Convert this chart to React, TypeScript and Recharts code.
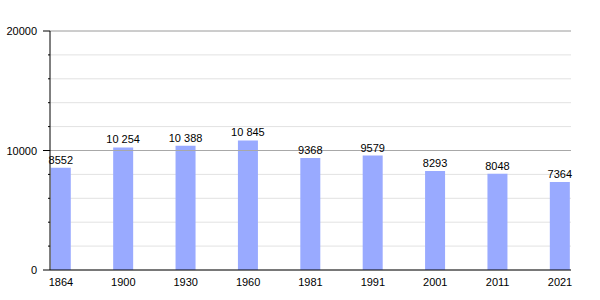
import React from 'react'
import {
  Bar,
  BarChart,
  CartesianGrid,
  LabelList,
  ReferenceLine,
  XAxis,
  YAxis,
} from 'recharts'

const years = ['1864', '1900', '1930', '1960', '1981', '1991', '2001', '2011', '2021']
const population = [8552, 10254, 10388, 10845, 9368, 9579, 8293, 8048, 7364]
const yTicks = [0, 2000, 4000, 6000, 8000, 10000, 12000, 14000, 16000, 18000, 20000]
const yLabels = [0, 10000, 20000]

const data = years.map((year, i) => ({ idx: i, year, pop: population[i] }))

// French-style: (non-breaking) space separator only for numbers of 5+ digits
const formatPop = (v: number): string => {
  const s = String(v)
  if (s.length < 5) return s
  return s.slice(0, s.length - 3) + '\u00a0' + s.slice(s.length - 3)
}

const YTick = ({ x, y, payload }: any) => {
  const major = yLabels.includes(payload.value)
  return (
    <g>
      <line
        x1={x + 8 - (major ? 7 : 2)}
        x2={x + 8}
        y1={y}
        y2={y}
        stroke="#000"
        strokeWidth={1}
      />
      {major && (
        <text
          x={x - 5}
          y={y}
          dy={4}
          textAnchor="end"
          fontSize={11}
          fill="#000"
        >
          {payload.value}
        </text>
      )}
    </g>
  )
}

export default function App() {
  return (
    <div
      style={{
        position: 'absolute',
        left: 0,
        top: 0,
        width: 600,
        height: 300,
        background: '#fff',
        fontFamily: 'Liberation Sans, Arial, sans-serif',
      }}
    >
      <BarChart
        width={600}
        height={300}
        data={data}
        margin={{ top: 31, right: 29, bottom: 0, left: 0 }}
      >
        <CartesianGrid
          vertical={false}
          stroke="#e2e2e2"
          horizontalValues={yTicks}
        />
        <ReferenceLine y={10000} stroke="#a8a8a8" />
        <ReferenceLine y={20000} stroke="#a8a8a8" />
        <XAxis
          dataKey="idx"
          type="number"
          domain={[-0.176, 8.176]}
          ticks={data.map((d) => d.idx)}
          tickFormatter={(v) => years[v]}
          interval={0}
          height={30}
          tick={{ fill: '#000', fontSize: 11 }}
          tickLine={false}
          axisLine={{ stroke: '#000' }}
          allowDataOverflow
        />
        <YAxis
          width={50}
          domain={[0, 20000]}
          ticks={yTicks}
          interval={0}
          tick={<YTick />}
          tickLine={false}
          axisLine={{ stroke: '#000' }}
        />
        <Bar dataKey="pop" fill="#99aaff" barSize={20} isAnimationActive={false}>
          <LabelList
            dataKey="pop"
            position="top"
            formatter={(v: any) => formatPop(Number(v))}
            style={{ fill: '#000', fontSize: 11 }}
            offset={4}
          />
        </Bar>
      </BarChart>
    </div>
  )
}
